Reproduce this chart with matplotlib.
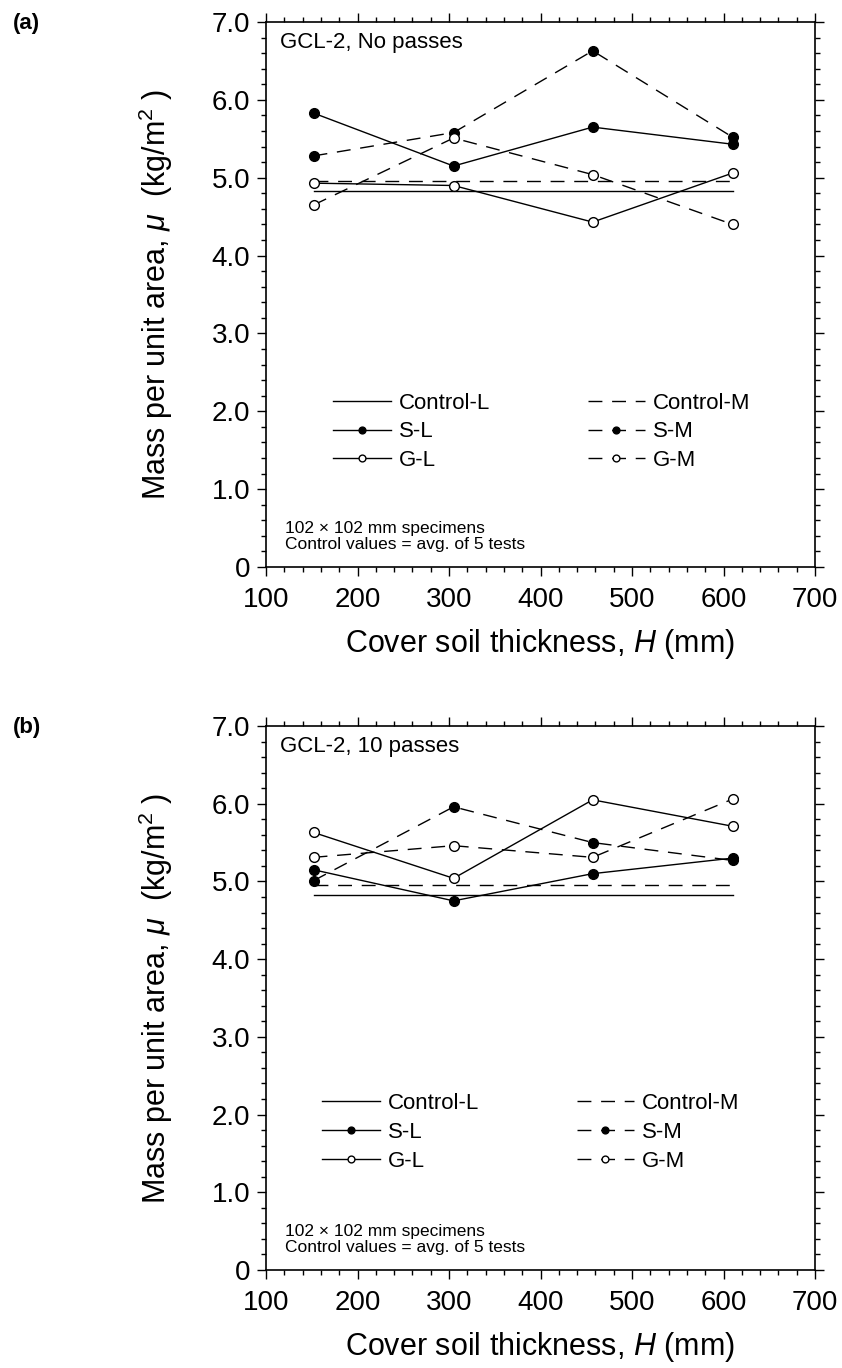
import matplotlib
matplotlib.use("Agg")
import matplotlib.pyplot as plt
from matplotlib.ticker import MultipleLocator, FuncFormatter

plt.rcParams['font.family'] = ['Liberation Sans', 'DejaVu Sans']
plt.rcParams['mathtext.fontset'] = 'custom'
plt.rcParams['mathtext.rm'] = 'Liberation Sans'
plt.rcParams['mathtext.it'] = 'Liberation Sans:italic'

# cover soil thickness (mm)
thickness = [152, 305, 457, 610]

# control values (avg of 5 tests), same in both panels
control_L = 4.83
control_M = 4.96

# (a) no passes
a_SL = [5.83, 5.15, 5.65, 5.43]
a_SM = [5.28, 5.58, 6.63, 5.52]
a_GL = [4.93, 4.90, 4.43, 5.06]
a_GM = [4.65, 5.51, 5.04, 4.40]

# (b) 10 passes
b_SL = [5.15, 4.75, 5.10, 5.30]
b_SM = [5.01, 5.96, 5.50, 5.27]
b_GL = [5.63, 5.04, 6.05, 5.71]
b_GM = [5.31, 5.46, 5.31, 6.06]

panels = [
    ("(a)", "GCL-2, No passes", a_SL, a_SM, a_GL, a_GM),
    ("(b)", "GCL-2, 10 passes", b_SL, b_SM, b_GL, b_GM),
]

fig = plt.figure(figsize=(8.42, 13.68), dpi=100)
W, H = 842, 1368
boxes = [(266, 22, 815, 567), (266, 726, 815, 1270)]
leg_pos = [(0.122, 0.32), (0.102, 0.325)]

dash = (0, (10, 7))
for (tag, title, sl, sm, gl, gm), (x0, y0, x1, y1), lp in zip(panels, boxes, leg_pos):
    ax = fig.add_axes([x0 / W, 1 - y1 / H, (x1 - x0) / W, (y1 - y0) / H])
    lw = 1.0
    ax.plot([thickness[0], thickness[-1]], [control_L, control_L], '-', color='k', lw=lw, label='Control-L')
    ax.plot([thickness[0], thickness[-1]], [control_M, control_M], linestyle=dash, color='k', lw=lw, label='Control-M')
    ax.plot(thickness, sl, '-o', color='k', lw=lw, ms=7, mfc='k', label='S-L')
    ax.plot(thickness, sm, marker='o', linestyle=dash, color='k', lw=lw, ms=7, mfc='k', label='S-M')
    ax.plot(thickness, gl, '-o', color='k', lw=lw, ms=7, mfc='white', mew=1.0, label='G-L')
    ax.plot(thickness, gm, marker='o', linestyle=dash, color='k', lw=lw, ms=7, mfc='white', mew=1.0, label='G-M')

    ax.set_xlim(100, 700)
    ax.set_ylim(0, 7)
    ax.xaxis.set_major_locator(MultipleLocator(100))
    ax.xaxis.set_minor_locator(MultipleLocator(20))
    ax.yaxis.set_major_locator(MultipleLocator(1))
    ax.yaxis.set_minor_locator(MultipleLocator(0.2))
    ax.yaxis.set_major_formatter(FuncFormatter(lambda v, p: "0" if v == 0 else f"{v:.1f}"))
    ax.tick_params(which='both', direction='out', top=True, right=True, width=1.0)
    ax.tick_params(which='major', length=6.5, labelsize=20)
    ax.tick_params(which='minor', length=3.5)
    ax.tick_params(axis='x', which='major', pad=8)
    ax.tick_params(axis='y', which='major', pad=5)
    for s in ax.spines.values():
        s.set_linewidth(1.2)

    ax.set_xlabel("Cover soil thickness, $H$ (mm)", fontsize=22, labelpad=10)
    ax.set_ylabel("Mass per unit area, $\\mu$  (kg/m$^2$ )", fontsize=22, labelpad=26)

    ax.text(0.025, 0.982, title, transform=ax.transAxes, fontsize=16, va='top', ha='left')
    ax.text(0.035, 0.028, "102 \u00d7 102 mm specimens\nControl values = avg. of 5 tests",
            transform=ax.transAxes, fontsize=12.5, va='bottom', ha='left', linespacing=1.1)
    fig.text(13 / W, 1 - (y0 - 9) / H, tag, fontsize=16, fontweight='bold', va='top', ha='left')

    handles, labels = ax.get_legend_handles_labels()
    order = [0, 2, 4, 1, 3, 5]
    ax.legend([handles[i] for i in order], [labels[i] for i in order], ncol=2,
              frameon=False, loc='upper left', bbox_to_anchor=lp, fontsize=16,
              handlelength=2.6, handletextpad=0.35, columnspacing=4.4,
              labelspacing=0.35, markerscale=0.7, borderaxespad=0, borderpad=0)

fig.savefig("out.png", dpi=100)
